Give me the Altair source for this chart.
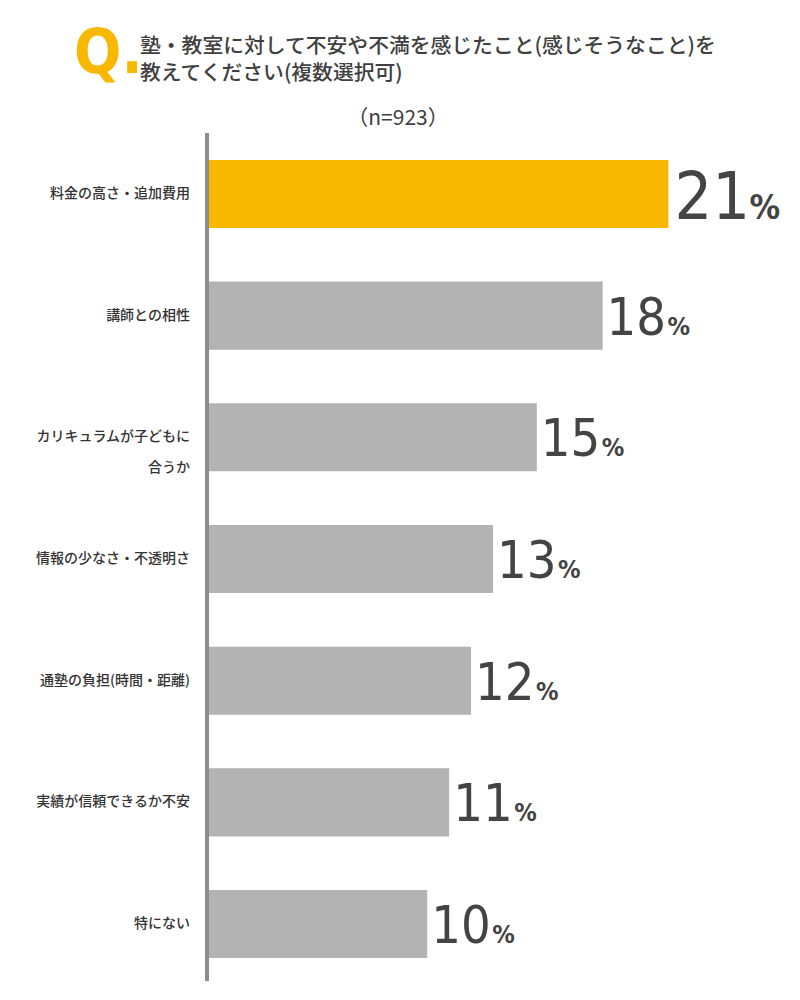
import altair as alt
import pandas as pd

categories = [
    "料金の高さ・追加費用",
    "講師との相性",
    "カリキュラムが子どもに\n合うか",
    "情報の少なさ・不透明さ",
    "通塾の負担(時間・距離)",
    "実績が信頼できるか不安",
    "特にない",
]
values = [21, 18, 15, 13, 12, 11, 10]
highlight = [True, False, False, False, False, False, False]

title_line1 = "塾・教室に対して不安や不満を感じたこと(感じそうなこと)を"
title_line2 = "教えてください(複数選択可)"
n_label = "（n=923）"

df = pd.DataFrame({"cat": categories, "value": values, "hl": highlight})

W, H = 570, 858
JP = "Noto Sans CJK JP"
NUM = "DejaVu Sans Condensed"

y_enc = alt.Y("cat:N", sort=categories, axis=None,
              scale=alt.Scale(paddingInner=0.441, paddingOuter=0.246))
x_scale = alt.Scale(domain=[0, 26.0], nice=False, zero=True)

base = alt.Chart(df)

bars = base.mark_bar().encode(
    x=alt.X("value:Q", scale=x_scale, axis=None),
    y=y_enc,
    color=alt.condition(alt.datum.hl, alt.value("#f9b800"), alt.value("#b3b3b3")),
)

axis_line = base.mark_rule(color="#8c8c8c", strokeWidth=4).encode(
    x=alt.value(-1), y=alt.value(3), y2=alt.value(851)
)

cat_labels = base.mark_text(
    align="right", baseline="middle", lineBreak="\n", lineHeight=31,
    font=JP, fontSize=14, fontWeight=500, color="#333333"
).encode(y=y_enc, x=alt.value(-18), text="cat:N")

num_hl = base.transform_filter(alt.datum.hl).mark_text(
    align="left", baseline="alphabetic", dx=6, dy=25, font=NUM, fontSize=66,
    color="#444444"
).encode(x=alt.X("value:Q", scale=x_scale), y=y_enc, text="value:Q")

pct_hl = base.transform_filter(alt.datum.hl).mark_text(
    align="left", baseline="alphabetic", dx=81, dy=25, font=NUM, fontSize=34,
    fontWeight="bold", color="#444444"
).encode(x=alt.X("value:Q", scale=x_scale), y=y_enc, text=alt.value("%"))

num_rest = base.transform_filter(~alt.datum.hl).mark_text(
    align="left", baseline="alphabetic", dx=4, dy=19, font=NUM, fontSize=52,
    color="#444444"
).encode(x=alt.X("value:Q", scale=x_scale), y=y_enc, text="value:Q")

pct_rest = base.transform_filter(~alt.datum.hl).mark_text(
    align="left", baseline="alphabetic", dx=65, dy=19, font=NUM, fontSize=25,
    fontWeight="bold", color="#444444"
).encode(x=alt.X("value:Q", scale=x_scale), y=y_enc, text=alt.value("%"))

q_mark = alt.Chart(pd.DataFrame({"t": ["Q."]})).mark_text(
    align="left", baseline="alphabetic", font=NUM, fontSize=62, fontWeight="bold",
    color="#f9b800"
).encode(x=alt.value(-134), y=alt.value(-57), text="t:N")

t1 = alt.Chart(pd.DataFrame({"t": [title_line1]})).mark_text(
    align="left", baseline="middle", font=JP, fontSize=20.8, fontWeight=500,
    color="#404040"
).encode(x=alt.value(-68), y=alt.value(-83), text="t:N")
t2 = alt.Chart(pd.DataFrame({"t": [title_line2]})).mark_text(
    align="left", baseline="middle", font=JP, fontSize=20.8, fontWeight=500,
    color="#404040"
).encode(x=alt.value(-68), y=alt.value(-56), text="t:N")

n_text = alt.Chart(pd.DataFrame({"t": [n_label]})).mark_text(
    align="center", baseline="middle", font=JP, fontSize=21, color="#404040"
).encode(x=alt.value(190), y=alt.value(-11), text="t:N")

chart = alt.layer(
    bars, axis_line, cat_labels, num_hl, pct_hl, num_rest, pct_rest,
    q_mark, t1, t2, n_text
).properties(
    width=W, height=H,
    background="white",
    autosize=alt.AutoSizeParams(type="none"),
    padding={"left": 200, "top": 122, "right": 12, "bottom": 0},
).configure_view(stroke=None)

chart.save("out.html", embed_options={"renderer": "svg", "actions": False})
